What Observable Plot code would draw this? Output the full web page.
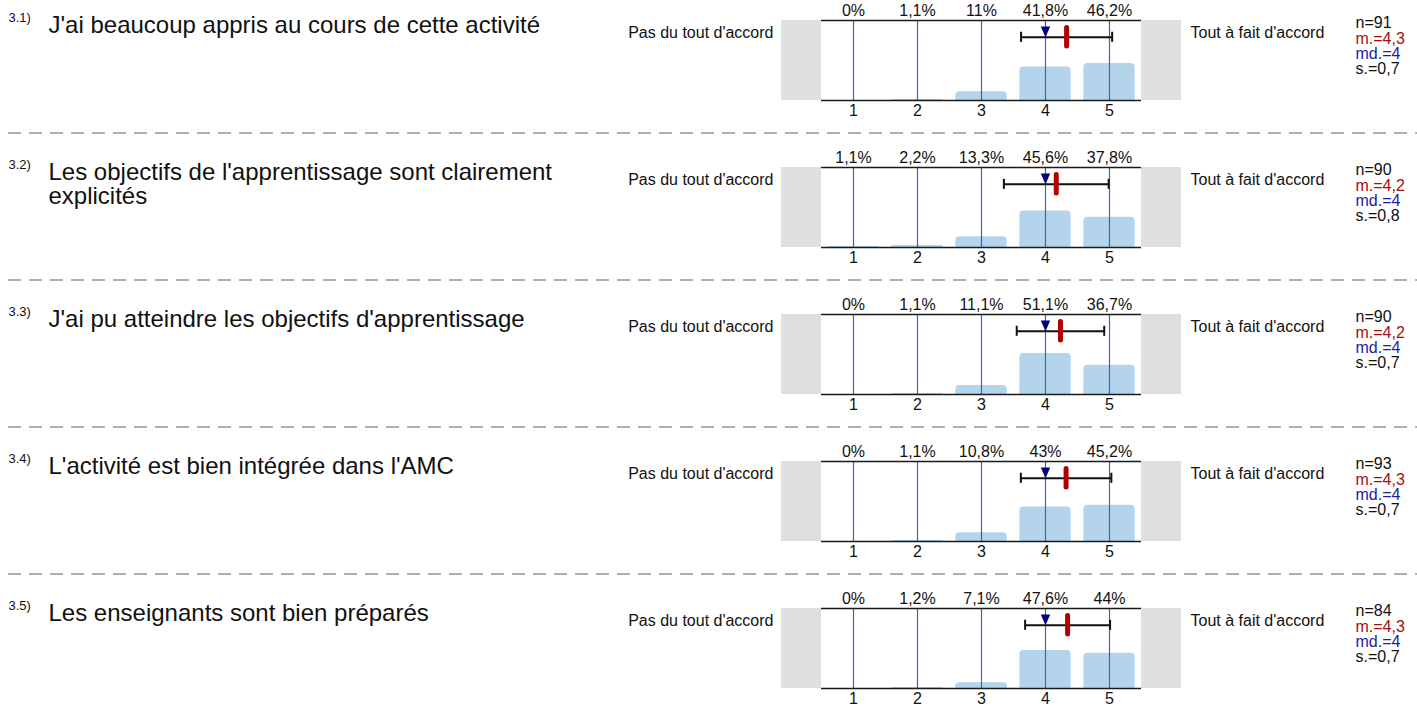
<!DOCTYPE html>
<html>
<head>
<meta charset="utf-8">
<script src="https://cdn.jsdelivr.net/npm/d3@7"></script>
<script src="https://cdn.jsdelivr.net/npm/@observablehq/plot@0.6"></script>
<style>
  html, body { margin: 0; padding: 0; background: #ffffff; }
  #chart { width: 1417px; height: 706px; overflow: hidden; }
</style>
</head>
<body>
<div id="chart"></div>
<script>
// ---------- data ----------
const numbers = ["3.1)", "3.2)", "3.3)", "3.4)", "3.5)"];
const questions = [
  "J'ai beaucoup appris au cours de cette activité",
  "Les objectifs de l'apprentissage sont clairement\nexplicités",
  "J'ai pu atteindre les objectifs d'apprentissage",
  "L'activité est bien intégrée dans l'AMC",
  "Les enseignants sont bien préparés"
];
const categories = [1, 2, 3, 4, 5];
const pct1 = [0, 1.1, 11, 41.8, 46.2];
const pct2 = [1.1, 2.2, 13.3, 45.6, 37.8];
const pct3 = [0, 1.1, 11.1, 51.1, 36.7];
const pct4 = [0, 1.1, 10.8, 43, 45.2];
const pct5 = [0, 1.2, 7.1, 47.6, 44];
const nValues = [91, 90, 90, 93, 84];
const meanLabels = [4.3, 4.2, 4.2, 4.3, 4.3];
const medianValues = [4, 4, 4, 4, 4];
const sdLabels = [0.7, 0.8, 0.7, 0.7, 0.7];
const leftPole = "Pas du tout d'accord";
const rightPole = "Tout à fait d'accord";

// ---------- derived tables ----------
const pcts = [pct1, pct2, pct3, pct4, pct5];
const comma = v => String(v).replace(".", ",");
const rows = questions.map((text, q) => {
  const p = pcts[q];
  const tot = d3.sum(p);
  const mean = d3.sum(categories, (c, k) => c * p[k]) / tot;
  const ex2 = d3.sum(categories, (c, k) => c * c * p[k]) / tot;
  const sd = Math.sqrt(ex2 - mean * mean);
  return {q, text, num: numbers[q], n: nValues[q], mLab: meanLabels[q], md: medianValues[q],
          sLab: sdLabels[q], mean, lo: mean - sd, hi: mean + sd, multi: text.includes("\n")};
});
const bars = rows.flatMap(r => categories.map((c, k) => ({q: r.q, value: c, pct: pcts[r.q][k]})));
const frameLines = rows.flatMap(r => [0, 100].map(y => ({q: r.q, y})));
const caps = rows.flatMap(r => [r.lo, r.hi].map(x => ({q: r.q, x})));

// ---------- styling constants ----------
const lo = 0.5, hi = 5.5, side = 0.625, halfBar = 0.4;
const markY = 79;           // vertical level of the mean / median / sd markers (in % units)
const blue = "#2f6db3", barFill = "#b4d4ec", grey = "#dfdfdf";
const red = "#b00000", navy = "#000080";

const triangleDown = {
  draw(context, size) {
    const r = Math.sqrt(size / Math.PI);
    context.moveTo(-r, -2.3 * r);
    context.lineTo(r, -2.3 * r);
    context.lineTo(0, 0);
    context.closePath();
  }
};

const statDefs = [
  {label: r => "n=" + r.n, color: "#111"},
  {label: r => "m.=" + comma(r.mLab), color: "#a01010"},
  {label: r => "md.=" + r.md, color: "#1c1ca8"},
  {label: r => "s.=" + comma(r.sLab), color: "#111"}
];

const questionStyle = {fy: "q", text: "text", frameAnchor: "top-left", dx: 48, textAnchor: "start",
  lineAnchor: "top", lineHeight: 1.0, fontSize: 24, fill: "#111"};

const chart = Plot.plot({
  width: 1417,
  height: 706,
  marginLeft: 0,
  marginRight: 0,
  marginTop: 20,
  marginBottom: 18,
  x: {domain: [lo, hi], range: [821, 1141], axis: null},
  y: {domain: [0, 100], axis: null},
  fy: {domain: d3.range(5), paddingInner: 67 / 147, paddingOuter: 0, axis: null, round: false},
  style: {fontFamily: "'Liberation Sans', Arial, sans-serif", fontSize: "16px", background: "#ffffff", color: "#111"},
  marks: [
    // grey side boxes
    Plot.rect(rows, {fy: "q", x1: lo - side, x2: lo, y1: 0, y2: 100, fill: grey}),
    Plot.rect(rows, {fy: "q", x1: hi, x2: hi + side, y1: 0, y2: 100, fill: grey}),
    // bars (rounded top, square bottom)
    Plot.rect(bars, {fy: "q", x1: d => d.value - halfBar, x2: d => d.value + halfBar, y1: 0, y2: "pct", fill: barFill, rx: 4}),
    Plot.rect(bars, {fy: "q", x1: d => d.value - halfBar, x2: d => d.value + halfBar, y1: 0, y2: d => Math.min(d.pct, 5), fill: barFill}),
    // vertical category lines
    Plot.ruleX(bars, {fy: "q", x: "value", stroke: blue, strokeWidth: 1.2}),
    // top and bottom frame lines
    Plot.ruleY(frameLines, {fy: "q", y: "y", x1: lo, x2: hi, stroke: "#1a1a1a", strokeWidth: 1.5}),
    // percentage labels
    Plot.text(bars, {fy: "q", x: "value", text: d => comma(d.pct) + "%", frameAnchor: "top", lineAnchor: "middle", dy: -10, fontSize: 16, fill: "#111"}),
    // category tick labels
    Plot.text(bars, {fy: "q", x: "value", text: d => String(d.value), frameAnchor: "bottom", lineAnchor: "middle", dy: 10.5, fontSize: 16, fill: "#111"}),
    // sd error bar
    Plot.link(rows, {fy: "q", x1: "lo", x2: "hi", y1: markY, y2: markY, stroke: "#111", strokeWidth: 2}),
    Plot.ruleX(caps, {fy: "q", x: "x", y1: markY - 6.3, y2: markY + 6.3, stroke: "#111", strokeWidth: 2}),
    // median triangle
    Plot.dot(rows, {fy: "q", x: "md", y: markY, symbol: triangleDown, r: 4.7, fill: navy, stroke: "none"}),
    // mean marker
    Plot.ruleX(rows, {fy: "q", x: "mean", y1: markY - 11.5, y2: markY + 11.5, stroke: red, strokeWidth: 5, strokeLinecap: "round"}),
    // pole labels
    Plot.text(rows, {fy: "q", text: () => leftPole, frameAnchor: "top-left", lineAnchor: "middle", dx: 773, dy: 12, textAnchor: "end", fontSize: 16, fill: "#111"}),
    Plot.text(rows, {fy: "q", text: () => rightPole, frameAnchor: "top-left", lineAnchor: "middle", dx: 1190, dy: 12, textAnchor: "start", fontSize: 16, fill: "#111"}),
    // statistics
    ...statDefs.map((s, k) => Plot.text(rows, {fy: "q", text: s.label, frameAnchor: "top-left", lineAnchor: "middle", dx: 1355, dy: 2.5 + 15.4 * k, textAnchor: "start", fontSize: 16, fill: s.color})),
    // question numbers and texts
    Plot.text(rows, {fy: "q", text: "num", frameAnchor: "top-left", lineAnchor: "middle", dx: 8, dy: -2.5, textAnchor: "start", fontSize: 13, fill: "#111"}),
    Plot.text(rows.filter(r => !r.multi), {...questionStyle, dy: -5}),
    Plot.text(rows.filter(r => r.multi), {...questionStyle, dy: -4.5}),
    // dashed separators
    Plot.ruleY(rows.filter(r => r.q < 4), {fy: "q", y: 0, dy: 32.5, x1: d => lo - 813 / 64, x2: d => hi + 276 / 64, stroke: "#b0b0b0", strokeWidth: 2, strokeDasharray: "13,8"})
  ]
});
document.getElementById("chart").appendChild(chart);
</script>
</body>
</html>
